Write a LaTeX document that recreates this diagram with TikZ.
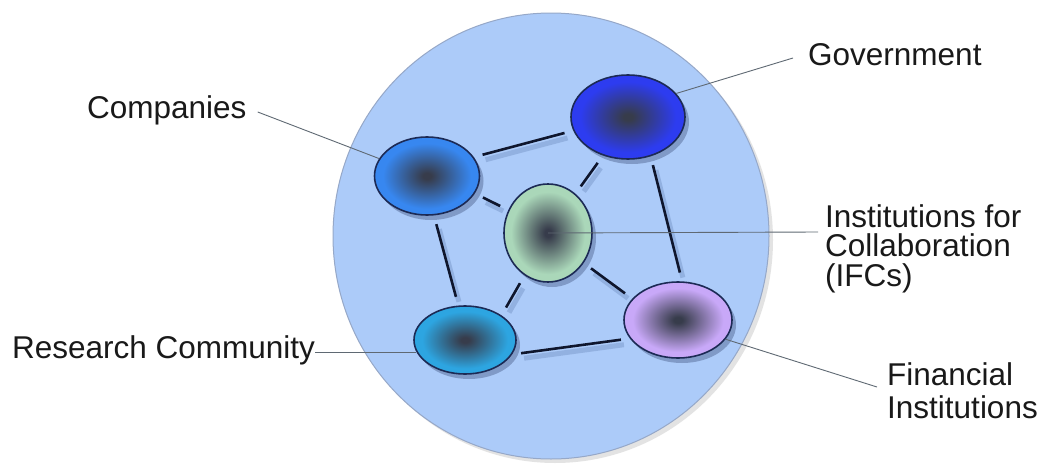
\documentclass[tikz,border=0pt]{standalone}
\usepackage{fontspec}
\setmainfont{Liberation Sans}
\usetikzlibrary{shapes.geometric,shadows}

\definecolor{bigfill}{RGB}{172,203,249}
\definecolor{bigedge}{RGB}{150,168,200}
\definecolor{ovedge}{RGB}{28,42,85}
\definecolor{linkc}{RGB}{15,22,45}
\definecolor{linkshadow}{RGB}{130,160,210}
\definecolor{leaderc}{RGB}{95,105,115}
\definecolor{txt}{RGB}{25,25,25}
\definecolor{ccomp}{RGB}{55,135,240}
\definecolor{cgov}{RGB}{45,60,240}
\definecolor{cifc}{RGB}{170,215,185}
\definecolor{cres}{RGB}{45,165,225}
\definecolor{cfin}{RGB}{200,168,248}
\definecolor{blobin}{RGB}{55,60,75}
\colorlet{blobout}{ccomp}
\pgfdeclareradialshading[blobin,blobout]{blobshade}{\pgfpoint{0bp}{0bp}}{color(0bp)=(blobin); color(2bp)=(blobin); color(21bp)=(blobout); color(50bp)=(blobout)}

\begin{document}
\begin{tikzpicture}[x=1pt,y=-1pt,
  blob/.style={ellipse, draw=ovedge, line width=1.6pt, inner sep=0pt,
    /utils/exec={\colorlet{blobout}{#1}}, shading=blobshade,
    drop shadow={shadow xshift=4pt, shadow yshift=-5pt, opacity=0.3, fill=ovedge}},
  link/.style={draw=linkc, line width=2.6pt, shorten <=9pt, shorten >=9pt,
    preaction={draw=linkshadow, line width=5pt, opacity=0.6, transform canvas={xshift=3pt, yshift=-5pt}}},
  leader/.style={draw=leaderc, line width=0.9pt},
  lbl/.style={inner sep=0pt, text=txt, font=\fontsize{31.5}{30}\selectfont}]

\useasboundingbox (0,0) rectangle (1045,469);
\fill[white] (0,0) rectangle (1045,469);

% outer circle
\node (world) [ellipse, minimum width=436pt, minimum height=446pt, inner sep=0pt,
  fill=bigfill, draw=bigedge, line width=1pt,
  drop shadow={shadow xshift=4pt, shadow yshift=-4pt, opacity=0.18, fill=black!60}] at (551,236) {};

% members
\node (comp) [blob=ccomp, minimum width=105pt, minimum height=78pt] at (427,176) {};
\node (gov)  [blob=cgov,  minimum width=114pt, minimum height=84pt] at (628,117) {};
\node (ifc)  [blob=cifc,  minimum width=88pt,  minimum height=98pt] at (548,233) {};
\node (res)  [blob=cres,  minimum width=102pt, minimum height=68pt] at (465,340) {};
\node (fin)  [blob=cfin,  minimum width=108pt, minimum height=76pt] at (678,320) {};

% links
\draw[link] (comp.22) -- (gov.194);
\draw[link] (comp.340) -- (ifc.150);
\draw[link] (gov.237) -- (ifc.55);
\draw[link] (gov.300) -- (fin.84);
\draw[link] (comp.280) -- (res.101);
\draw[link] (ifc.241) -- (res.34);
\draw[link] (ifc.320) -- (fin.155);
\draw[link] (res.343) -- (fin.201);

% labels
\node (complabel) [lbl, anchor=base west] at (87,118) {Companies};
\node (govlabel)  [lbl, anchor=base west] at (808,65) {Government};
\node (ifclabel)  [lbl, anchor=base west, align=left, font=\fontsize{31.5}{29.5}\selectfont] at (825,286) {Institutions for\\Collaboration\\(IFCs)};
\node (reslabel)  [lbl, anchor=base west] at (12,358) {Research Community};
\node (finlabel)  [lbl, anchor=base west, align=left, font=\fontsize{31.5}{33}\selectfont] at (887,418) {Financial\\Institutions};

\coordinate (ifcend) at (818,232);
\coordinate (finend) at (877,387);

% leaders
\draw[leader] ([xshift=11pt,yshift=6pt]complabel.base east) -- (comp.160);
\draw[leader] ([xshift=-15pt,yshift=7pt]govlabel.base west) -- (gov.26);
\draw[leader] (ifc.center) -- (ifcend);
\draw[leader] (res.194) -- (res.194 -| reslabel.east);
\draw[leader] (fin.338) -- (finend);
\end{tikzpicture}
\end{document}
